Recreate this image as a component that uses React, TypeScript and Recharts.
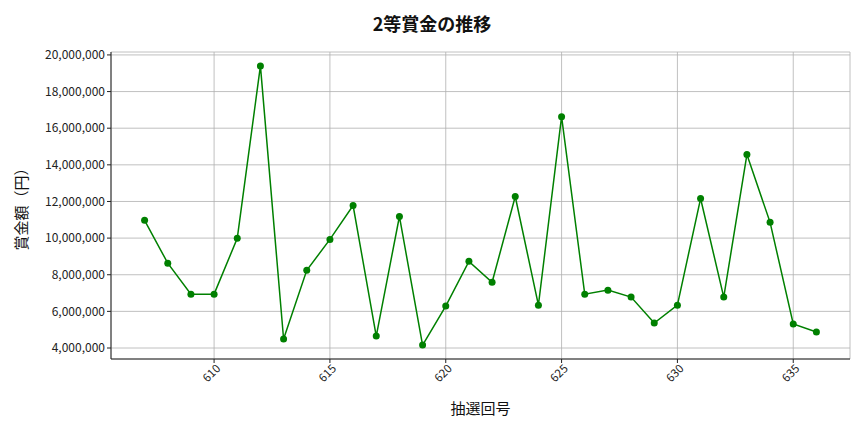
import { LineChart, Line, XAxis, YAxis, CartesianGrid } from "recharts";

const draws = [
  607, 608, 609, 610, 611, 612, 613, 614, 615, 616, 617, 618, 619, 620, 621,
  622, 623, 624, 625, 626, 627, 628, 629, 630, 631, 632, 633, 634, 635, 636,
];

const prizes = [
  10970000, 8630000, 6940000, 6940000, 9990000, 19400000, 4490000, 8240000,
  9930000, 11780000, 4650000, 11180000, 4160000, 6290000, 8730000, 7590000,
  12270000, 6340000, 16630000, 6940000, 7160000, 6780000, 5360000, 6340000,
  12160000, 6780000, 14560000, 10860000, 5310000, 4870000,
];

const xTicks = [610, 615, 620, 625, 630, 635];
const yTicks = [
  4000000, 6000000, 8000000, 10000000, 12000000, 14000000, 16000000, 18000000,
  20000000,
];

const data = draws.map((d, i) => ({ draw: d, prize: prizes[i] }));

const font = "'Noto Sans CJK JP', 'Noto Sans', sans-serif";

function XTick(props: any) {
  const { x, y, payload } = props;
  return (
    <text
      x={x}
      y={y}
      transform={`rotate(-45, ${x}, ${y})`}
      textAnchor="end"
      dy={8}
      dx={2}
      fontSize={11.5}
      fill="#222"
      fontFamily={font}
    >
      {payload.value}
    </text>
  );
}

export default function App() {
  return (
    <div style={{ position: "absolute", left: 0, top: 0, width: 864, height: 432, background: "#fff" }}>
      <div
        style={{
          position: "absolute",
          top: 10,
          width: 864,
          textAlign: "center",
          fontFamily: font,
          fontSize: 18,
          fontWeight: 700,
          color: "#111",
        }}
      >
        2等賞金の推移
      </div>
      <LineChart
        width={864}
        height={432}
        data={data}
        margin={{ top: 52, right: 14, bottom: 0, left: 0 }}
      >
        <CartesianGrid stroke="#b0b0b0" strokeWidth={0.8} />
        <XAxis
          dataKey="draw"
          type="number"
          domain={[605.55, 637.45]}
          ticks={xTicks}
          tick={<XTick />}
          tickSize={4}
          stroke="#222"
          height={73}
          allowDataOverflow
          label={{
            value: "抽選回号",
            position: "insideBottom",
            offset: 18,
            fontSize: 15,
            fill: "#111",
            fontFamily: font,
          }}
        />
        <XAxis xAxisId="top" orientation="top" type="number" domain={[0, 1]} tick={false} tickLine={false} stroke="#222" height={0} />
        <YAxis
          type="number"
          domain={[3400000, 20160000]}
          ticks={yTicks}
          allowDataOverflow
          tickFormatter={(v: number) => v.toLocaleString("en-US")}
          tick={{ fontSize: 12, fill: "#222", fontFamily: font }}
          tickSize={4}
          stroke="#222"
          width={111}
          label={{
            value: "賞金額（円）",
            angle: -90,
            position: "insideLeft",
            offset: 22,
            fontSize: 15,
            fill: "#111",
            fontFamily: font,
            style: { textAnchor: "middle" },
          }}
        />
        <YAxis yAxisId="right" orientation="right" domain={[0, 1]} tick={false} tickLine={false} stroke="#222" width={0} />
        <Line
          dataKey="prize"
          stroke="#008000"
          strokeWidth={1.5}
          dot={{ r: 3.5, fill: "#008000", stroke: "#008000", strokeWidth: 0 }}
          activeDot={false}
          isAnimationActive={false}
        />
      </LineChart>
    </div>
  );
}
